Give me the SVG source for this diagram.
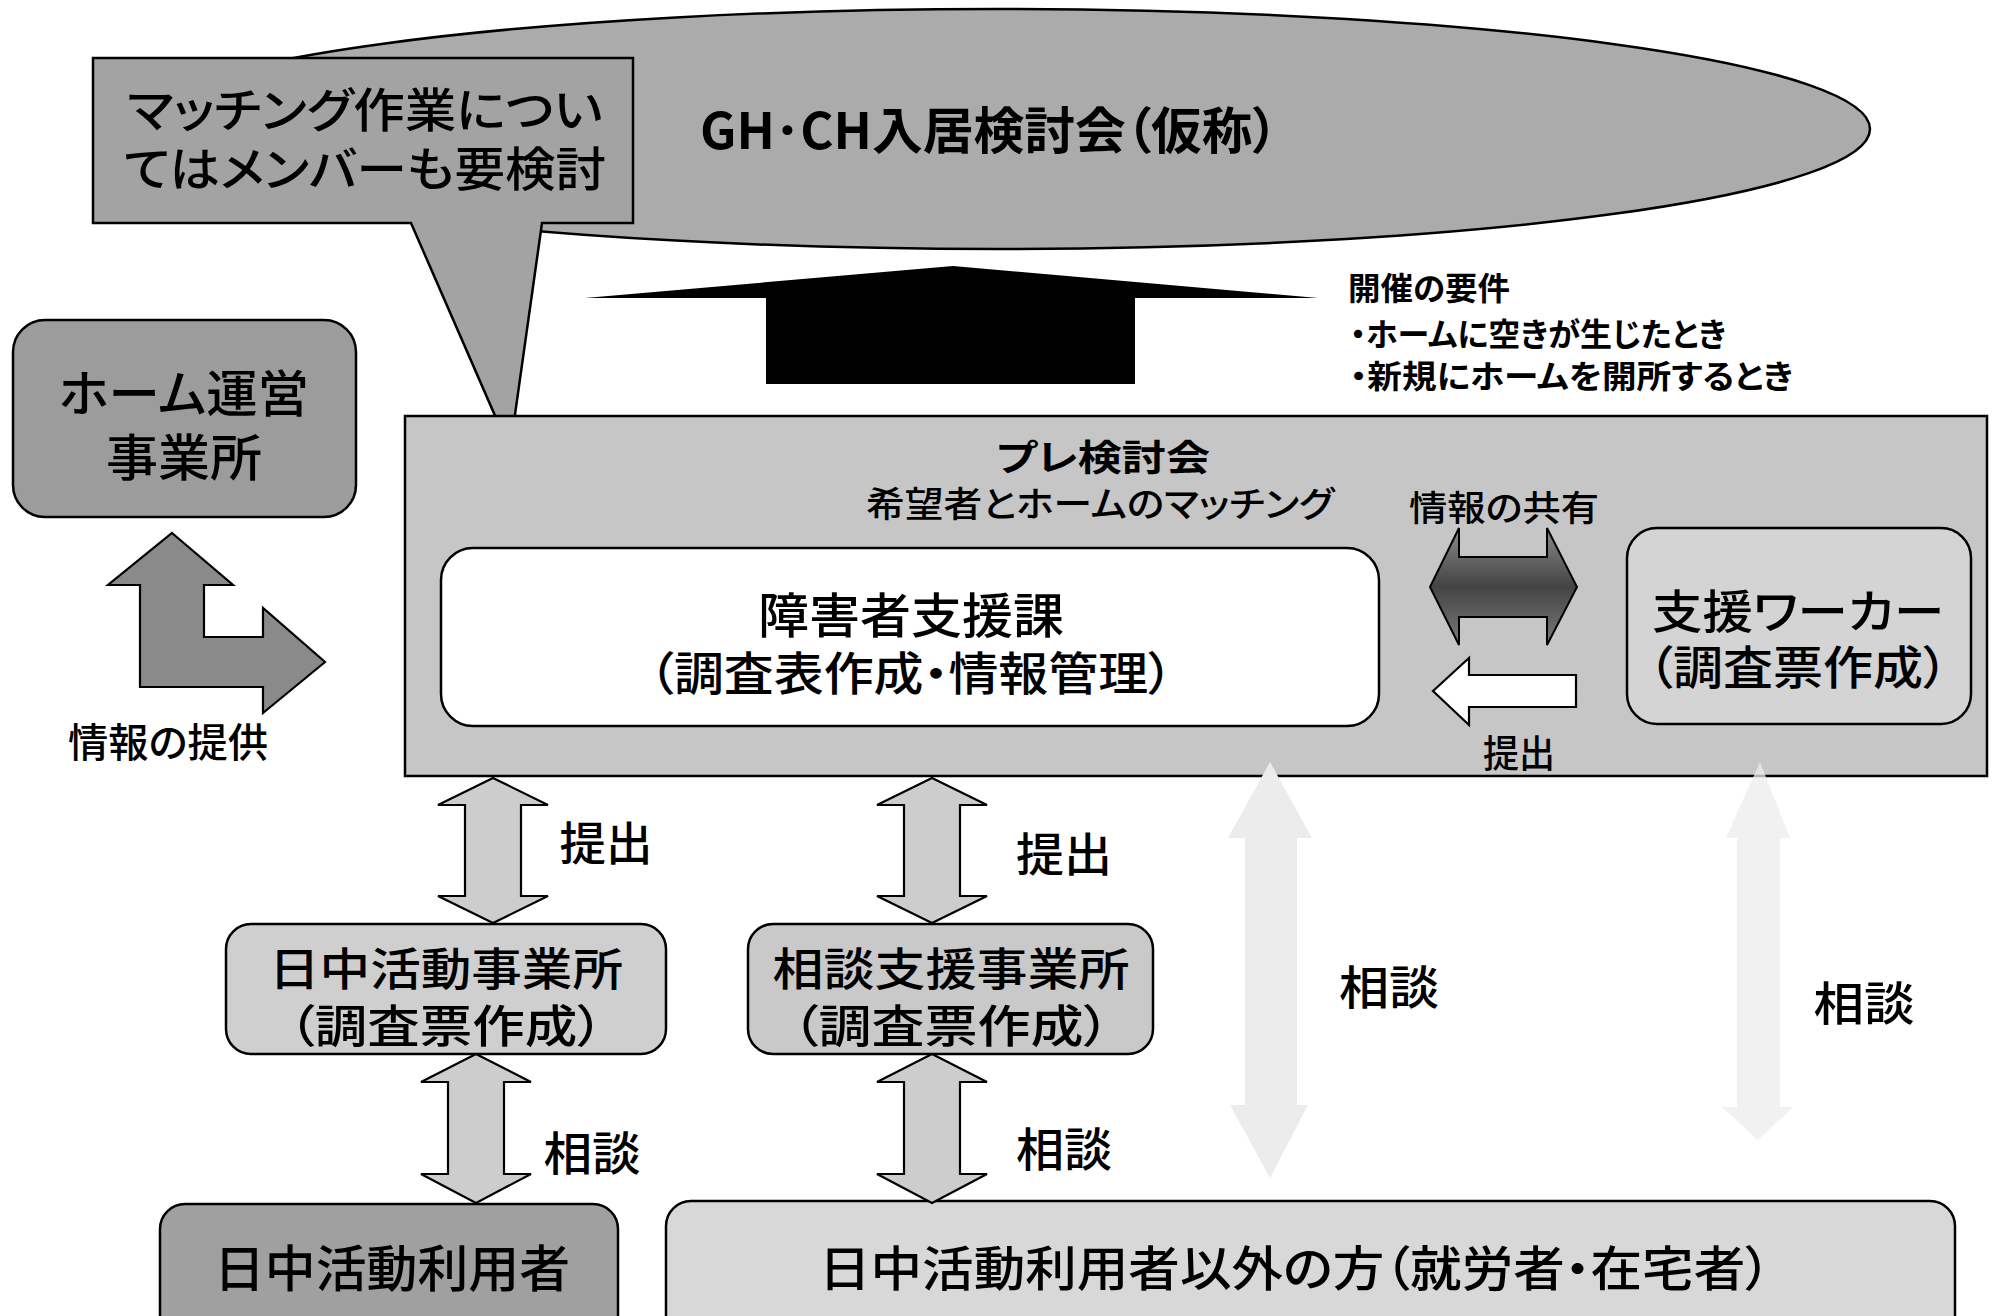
<svg xmlns="http://www.w3.org/2000/svg" width="1998" height="1316" viewBox="0 0 1998 1316">
<style>
.t{font-family:"Noto Sans CJK JP","Noto Sans CJK SC",sans-serif;fill:#000;font-feature-settings:"palt";font-weight:500;}
.c{text-anchor:middle;}
.b{font-weight:bold;}
.ln{stroke:#000;stroke-width:2.5;stroke-linejoin:miter;}
.varr{fill:#cdcdcd;stroke:#000;stroke-width:2.2;}
.faint{fill:#ececec;stroke:none;}
</style>
<defs>
<linearGradient id="dg" x1="0" y1="0" x2="0" y2="1">
<stop offset="0" stop-color="#8a8a8a"/>
<stop offset="0.5" stop-color="#444"/>
<stop offset="1" stop-color="#7a7a7a"/>
</linearGradient>
</defs>
<rect width="1998" height="1316" fill="#fff"/>

<g id="ellipse-gh-ch">
<ellipse cx="997" cy="129" rx="873" ry="120" fill="#ababab" class="ln"/>
<text class="t c b" x="989" y="149" font-size="50" textLength="578" lengthAdjust="spacingAndGlyphs">GH･CH入居検討会（仮称）</text>
</g>

<g id="callout">
<path d="M93,58 H633 V223 H542 L510,450 L411,223 H93 Z" fill="#a3a3a3" class="ln"/>
<text class="t c" x="365" y="127" font-size="47" textLength="475" lengthAdjust="spacingAndGlyphs">マッチング作業につい</text>
<text class="t c" x="365" y="186" font-size="47" textLength="482" lengthAdjust="spacingAndGlyphs">てはメンバーも要検討</text>
</g>

<g id="requirements">
<text class="t b" x="1348" y="300" font-size="32" textLength="162" lengthAdjust="spacingAndGlyphs">開催の要件</text>
<text class="t b" x="1350" y="346" font-size="32" textLength="376" lengthAdjust="spacingAndGlyphs">・ホームに空きが生じたとき</text>
<text class="t b" x="1350" y="388" font-size="32" textLength="443" lengthAdjust="spacingAndGlyphs">・新規にホームを開所するとき</text>
</g>

<g id="home-operator">
<rect x="13" y="320" width="343" height="197" rx="32" fill="#9c9c9c" class="ln"/>
<text class="t c" x="184" y="412" font-size="50" textLength="250" lengthAdjust="spacingAndGlyphs">ホーム運営</text>
<text class="t c" x="184" y="476" font-size="50" textLength="156" lengthAdjust="spacingAndGlyphs">事業所</text>
</g>

<g id="info-provide-label">
<text class="t c" x="168" y="757" font-size="40" textLength="200" lengthAdjust="spacingAndGlyphs">情報の提供</text>
</g>

<g id="pre-meeting">
<rect x="405" y="416" width="1582" height="360" fill="#c6c6c6" class="ln"/>
<text class="t c b" x="1103" y="471" font-size="36" textLength="214" lengthAdjust="spacingAndGlyphs">プレ検討会</text>
<text class="t c" x="1100" y="517" font-size="35" textLength="468" lengthAdjust="spacingAndGlyphs">希望者とホームのマッチング</text>
<text class="t c" x="1504" y="521" font-size="35" textLength="190" lengthAdjust="spacingAndGlyphs">情報の共有</text>
<text class="t c" x="1519" y="767" font-size="38" textLength="72" lengthAdjust="spacingAndGlyphs">提出</text>
</g>

<g id="disability-support">
<rect x="441" y="548" width="938" height="178" rx="32" fill="#fff" class="ln"/>
<text class="t c" x="911" y="633" font-size="48" textLength="306" lengthAdjust="spacingAndGlyphs">障害者支援課</text>
<text class="t c" x="911" y="690" font-size="46" textLength="524" lengthAdjust="spacingAndGlyphs">（調査表作成・情報管理）</text>
</g>

<g id="support-worker">
<rect x="1627" y="528" width="344" height="196" rx="30" fill="#d4d4d4" class="ln"/>
<text class="t c" x="1798" y="628" font-size="46" textLength="292" lengthAdjust="spacingAndGlyphs">支援ワーカー</text>
<text class="t c" x="1798" y="684" font-size="46" textLength="300" lengthAdjust="spacingAndGlyphs">（調査票作成）</text>
</g>

<g id="day-activity-office">
<rect x="226" y="924" width="440" height="130" rx="25" fill="#cfcfcf" class="ln"/>
<text class="t c" x="446" y="986" font-size="45" textLength="354" lengthAdjust="spacingAndGlyphs">日中活動事業所</text>
<text class="t c" x="446" y="1043" font-size="45" textLength="315" lengthAdjust="spacingAndGlyphs">（調査票作成）</text>
</g>

<g id="consult-office">
<rect x="748" y="924" width="405" height="130" rx="25" fill="#c9c9c9" class="ln"/>
<text class="t c" x="951" y="986" font-size="45" textLength="357" lengthAdjust="spacingAndGlyphs">相談支援事業所</text>
<text class="t c" x="951" y="1043" font-size="45" textLength="318" lengthAdjust="spacingAndGlyphs">（調査票作成）</text>
</g>

<g id="day-activity-users">
<rect x="160" y="1204" width="458" height="140" rx="25" fill="#a0a0a0" class="ln"/>
<text class="t c" x="392" y="1287" font-size="50" textLength="356" lengthAdjust="spacingAndGlyphs">日中活動利用者</text>
</g>

<g id="other-users">
<rect x="666" y="1201" width="1289" height="140" rx="25" fill="#d8d8d8" class="ln"/>
<text class="t c" x="1295" y="1286" font-size="48" textLength="952" lengthAdjust="spacingAndGlyphs">日中活動利用者以外の方（就労者・在宅者）</text>
</g>

<g id="labels">
<text class="t c" x="606" y="860" font-size="46" textLength="93" lengthAdjust="spacingAndGlyphs">提出</text>
<text class="t c" x="1064" y="871" font-size="46" textLength="96" lengthAdjust="spacingAndGlyphs">提出</text>
<text class="t c" x="592" y="1170" font-size="46" textLength="97" lengthAdjust="spacingAndGlyphs">相談</text>
<text class="t c" x="1064" y="1166" font-size="46" textLength="96" lengthAdjust="spacingAndGlyphs">相談</text>
<text class="t c" x="1389" y="1004" font-size="46" textLength="100" lengthAdjust="spacingAndGlyphs">相談</text>
<text class="t c" x="1864" y="1020" font-size="46" textLength="101" lengthAdjust="spacingAndGlyphs">相談</text>
</g>

<g id="connectors">
<polygon points="585,298 953,266 1318,298 1135,298 1135,384 766,384 766,298" fill="#000"/>
<polygon points="172,533 233,585 204,585 204,637 263,637 263,608 325,662 263,713 263,687 140,687 140,585 108,585" fill="#8a8a8a" stroke="#000" stroke-width="2.2"/>
<polygon points="1430,587 1459,528 1459,557 1547,557 1547,528 1577,587 1547,645 1547,617 1459,617 1459,645" fill="url(#dg)" stroke="#000" stroke-width="2"/>
<polygon points="1433,691 1469,658 1469,675 1576,675 1576,707 1469,707 1469,725" fill="#fff" stroke="#000" stroke-width="2.2"/>
<polygon class="varr" points="493,778 548,805 521,805 521,896 548,896 493,923 438,896 465,896 465,805 438,805"/>
<polygon class="varr" points="932,778 987,805 960,805 960,896 987,896 932,923 877,896 904,896 904,805 877,805"/>
<polygon class="varr" points="476,1054 531,1082 504,1082 504,1174 531,1174 476,1203 421,1174 448,1174 448,1082 421,1082"/>
<polygon class="varr" points="932,1054 987,1082 960,1082 960,1174 987,1174 932,1203 877,1174 904,1174 904,1082 877,1082"/>
<polygon class="faint" points="1270,762 1312,838 1297,838 1297,1105 1308,1105 1270,1178 1230,1105 1245,1105 1245,838 1228,838"/>
<polygon class="faint" points="1760,762 1790,838 1780,838 1780,1107 1793,1107 1758,1140 1722,1107 1737,1107 1737,838 1726,838" fill-opacity="0.75"/>
</g>
</svg>
